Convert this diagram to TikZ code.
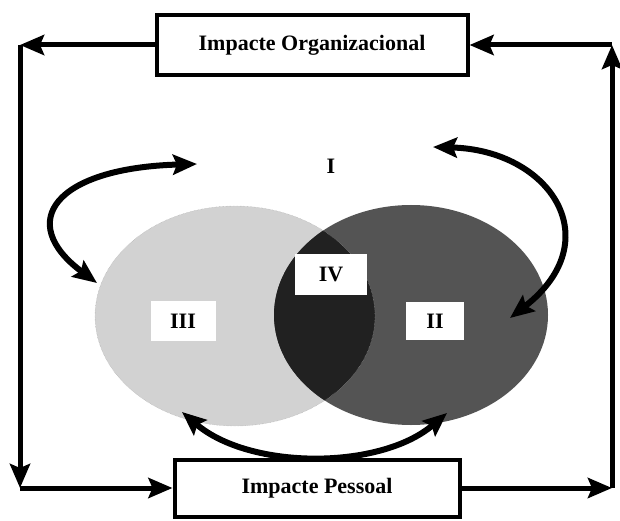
\documentclass[tikz,border=0pt]{standalone}
\usepackage{fontspec}
\setmainfont{Liberation Serif}
\usepackage{tikz}
\usetikzlibrary{arrows.meta}

\begin{document}
\begin{tikzpicture}[x=1pt,y=-1pt]
\useasboundingbox (0,0) rectangle (620,521);
%\tikzstyle{area}=[fill=gray!35]
\fill[gray!35] (235,316) ellipse [x radius=140, y radius=110];
\fill[black!67] (411,315) ellipse [x radius=137, y radius=110];
\begin{scope}
    \clip (235,316) ellipse [x radius=140, y radius=110];
    \fill[black!87] (411,315) ellipse [x radius=137, y radius=110];
\end{scope}
\draw[gray!70, densely dotted] (235,316) ellipse [x radius=140, y radius=110];

\begin{scope}[every node/.style={draw,line width=4pt,fill=white,inner sep=0pt,font=\bfseries\fontsize{22}{25}\selectfont}]
    \node[minimum width=311pt, minimum height=60pt] (org) at (312,45) {Impacte Organizacional};
    \node[minimum width=285pt, minimum height=57pt] (pes) at (317,488) {Impacte Pessoal};
\end{scope}

\begin{scope}[every node/.style={fill=white,inner sep=0pt,font=\bfseries\fontsize{22}{25}\selectfont}]
    \node[fill=none] (I) at (331,166) {I};
    \node[minimum width=58pt, minimum height=38pt] (II) at (435,321) {II};
    \node[minimum width=65pt, minimum height=40pt] (III) at (183,321) {III};
    \node[minimum width=72pt, minimum height=41pt] (IV) at (331,274) {IV};
\end{scope}

\coordinate (TL) at (20,45);
\coordinate (BL) at (20,488);
\coordinate (BR) at (612,488);
\coordinate (TR) at (612,45);

\coordinate (a) at (97,283);
\coordinate (b) at (197,164);
\coordinate (c) at (433,147);
\coordinate (d) at (510,318);
\coordinate (e) at (182,412);
\coordinate (f) at (447,413);

\begin{scope}[line width=5pt,>={Stealth[length=24pt,width=20pt,inset=4pt]}]
    \draw [->] (org.west) -- (TL);
    \draw [->] (TL) -- (BL);
    \draw [->] (BL) -- (pes.west);
    \draw [->] (pes.east) -- (BR);
    \draw [->] (BR) -- (TR);
    \draw [->] (TR) -- (org.east);
\end{scope}

\begin{scope}[line width=6pt,>={Stealth[length=24pt,width=20pt,inset=4pt]}]
    \draw [<->] (a) .. controls (15,222) and (55,168) .. (b);
    \draw [<->] (c) .. controls (550,150) and (610,240) .. (d);
    \draw [<->] (e) .. controls (250,470) and (380,470) .. (f);
\end{scope}
\end{tikzpicture}
\end{document}
